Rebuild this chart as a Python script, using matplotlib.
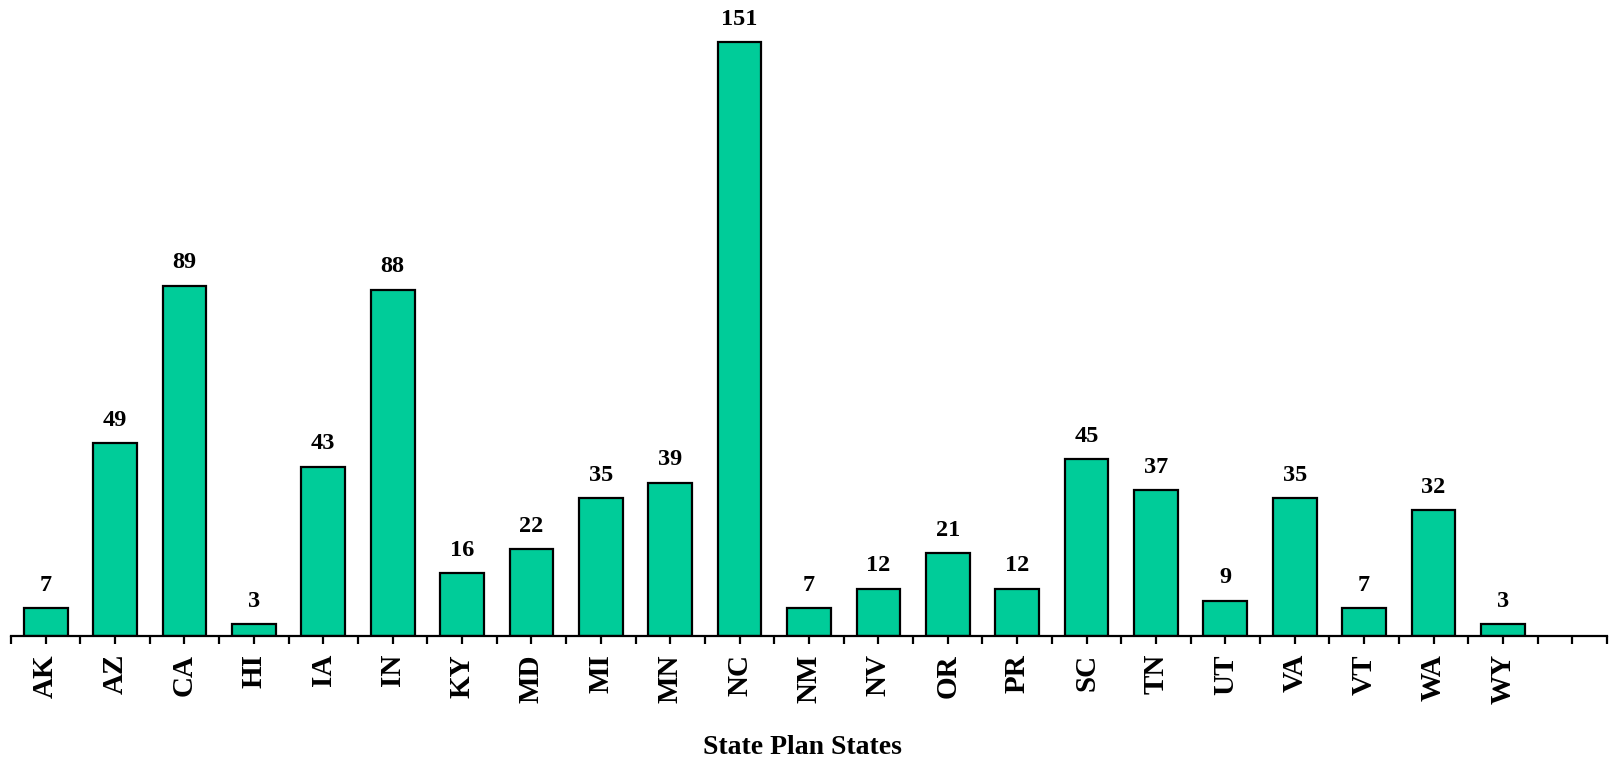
import matplotlib
matplotlib.use("Agg")
import matplotlib.pyplot as plt
import numpy as np

states = ["AK", "AZ", "CA", "HI", "IA", "IN", "KY", "MD", "MI", "MN", "NC",
          "NM", "NV", "OR", "PR", "SC", "TN", "UT", "VA", "VT", "WA", "WY"]
counts = [7, 49, 89, 3, 43, 88, 16, 22, 35, 39, 151,
          7, 12, 21, 12, 45, 37, 9, 35, 7, 32, 3]
xlabel_text = "State Plan States"

FONT = ["Liberation Serif", "DejaVu Serif"]

fig = plt.figure(figsize=(16.10, 7.61), dpi=100)
ax = fig.add_axes([11/1610, (761-636)/761, (1607-11)/1610, 636/761])

x = np.arange(len(states))
bars = ax.bar(x, counts, width=0.63, color="#00CC99", edgecolor="black", linewidth=1.6)

for xi, v in zip(x, counts):
    ax.annotate(str(v), (xi, v), xytext=(0, 9), textcoords="offset points",
                ha="center", va="bottom", fontsize=17.5, fontweight="bold",
                family=FONT, color="black")

nslots = len(states) + 1
ax.set_xlim(-0.5, nslots - 0.5)
ax.set_ylim(0, 161.7)

for s in ["top", "right", "left"]:
    ax.spines[s].set_visible(False)
ax.spines["bottom"].set_linewidth(1.6)
ax.set_yticks([])

ax.set_xticks(np.arange(nslots))
ax.set_xticklabels(states + [""], rotation=90, fontsize=21, fontweight="bold", family=FONT)
ax.set_xticks(np.arange(-0.5, nslots, 1.0), minor=True)
ax.tick_params(axis="x", which="both", direction="out", length=6, width=1.6, color="black")
ax.tick_params(axis="x", which="major", pad=7)

fig.text(802/1610, 1 - 747/761, xlabel_text, ha="center", va="center",
         fontsize=20, fontweight="bold", family=FONT)

fig.savefig("out.png", dpi=100)
